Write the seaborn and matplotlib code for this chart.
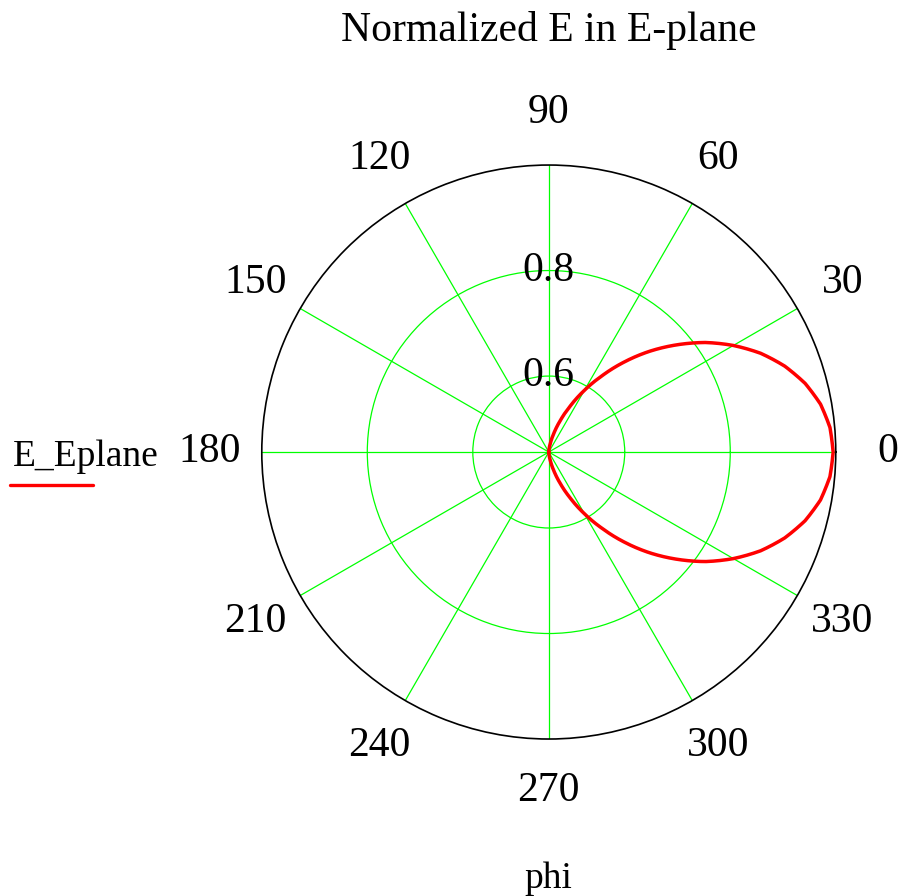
import numpy as np
import matplotlib
matplotlib.use("Agg")
import matplotlib.pyplot as plt
from matplotlib.lines import Line2D
import pandas as pd
import seaborn as sns

# Normalized E-plane field pattern, sampled every 5 degrees over the front half
phi_deg = [-90, -85, -80, -75, -70, -65, -60, -55, -50, -45, -40, -35, -30,
           -25, -20, -15, -10, -5, 0, 5, 10, 15, 20, 25, 30, 35, 40, 45,
           50, 55, 60, 65, 70, 75, 80, 85, 90]
e_half = [0.995, 0.991, 0.979, 0.959, 0.932, 0.899, 0.860, 0.818, 0.772,
          0.726, 0.679, 0.633, 0.591, 0.552, 0.519, 0.492, 0.472, 0.460, 0.456]
E_Eplane = e_half[::-1][:-1] + e_half

angle_ticks = [0, 30, 60, 90, 120, 150, 180, 210, 240, 270, 300, 330]
radial_ticks = [0.6, 0.8]
r_min, r_max = 0.456, 1.0

df = pd.DataFrame({"phi": np.deg2rad(phi_deg), "E_Eplane": E_Eplane})

sns.set_style("white")
plt.rcParams["font.family"] = ["Liberation Serif", "DejaVu Serif"]
plt.rcParams.update({"text.color": "black", "xtick.color": "black",
                     "ytick.color": "black", "axes.labelcolor": "black"})

fig = plt.figure(figsize=(9.02, 8.96), dpi=100)
ax = fig.add_axes([0.2902, 0.1752, 0.6364, 0.6406], projection="polar")

sns.lineplot(data=df, x="phi", y="E_Eplane", sort=False, color="#ff0000",
             linewidth=2.5, ax=ax, legend=False)
# follow the polar transform between samples so the trace is a smooth curve
for ln in ax.get_lines():
    ln.get_path()._interpolation_steps = 32

ax.set_rlim(r_min, r_max)
ax.set_rticks(radial_ticks)
ax.set_yticklabels([])
ax.set_thetagrids(angle_ticks, [str(a) for a in angle_ticks])
ax.tick_params(axis="x", pad=27, labelsize=30, colors="black")
ax.grid(True, color="#00ff00", linewidth=0.9)
ax.spines["polar"].set_color("black")
ax.spines["polar"].set_linewidth(1.2)
ax.set_xlabel("")
ax.set_ylabel("")

# radial values written on the 90 degree spoke
for r in radial_ticks:
    ax.text(np.pi / 2, r, f"{r:.1f}", ha="center", va="center", fontsize=30,
            color="black")

fig.text(0.608, 0.966, "Normalized E in E-plane", ha="center", va="center",
         fontsize=30)
fig.text(0.608, 0.019, "phi", ha="center", va="center", fontsize=27)

# legend entry at the left
fig.text(0.014, 0.490, "E_Eplane", ha="left", va="center", fontsize=27)
fig.add_artist(Line2D([0.011, 0.103], [0.4587, 0.4587], color="#ff0000",
                      linewidth=2.4, transform=fig.transFigure))

fig.savefig("out.png", dpi=100)
